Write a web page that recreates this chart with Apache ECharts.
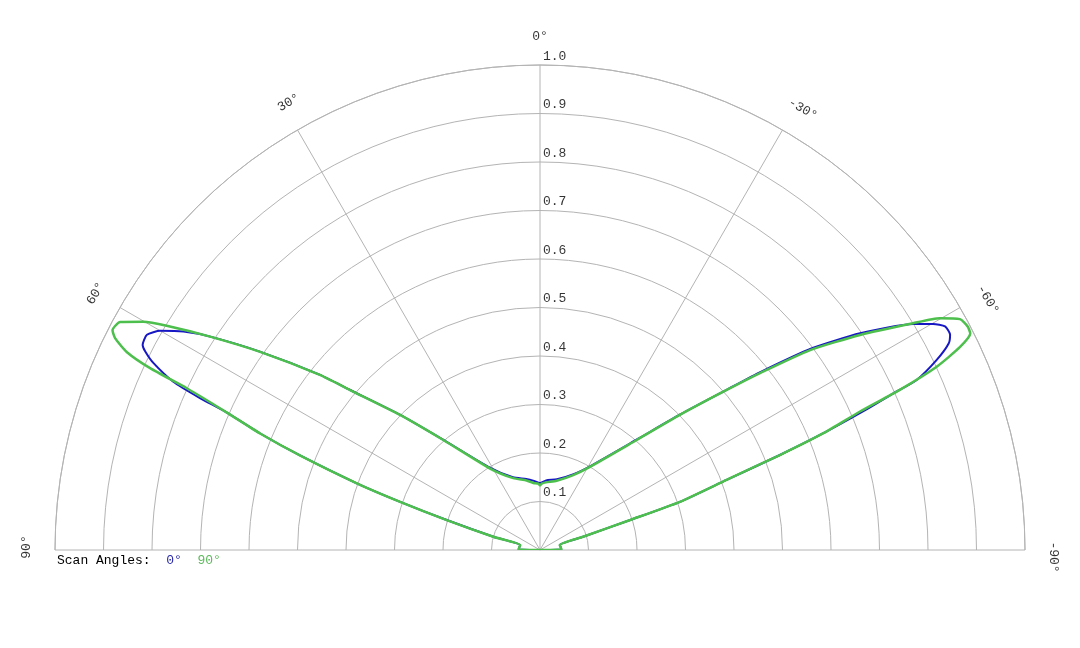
<!DOCTYPE html>
<html>
<head>
<meta charset="utf-8">
<title>Scan Angles</title>
<script src="https://cdn.jsdelivr.net/npm/echarts@6/dist/echarts.min.js"></script>
<style>
  html, body { margin: 0; padding: 0; background: #fff; }
  #container { width: 1080px; height: 648px; }
</style>
</head>
<body>
<div id="container"></div>
<script>
// pattern, angle in degrees (positive = left), radius normalised
var blueAngle = [-90, -88.5, -82, -76, -72.9, -71.6, -71.0, -69.4, -68.4, -67.6, -66.7, -66.1, -65.7, -64.4, -63.2, -62.3,
    -61.1, -60.1, -58.8, -55.9, -53.4, -51.1, -49.4, -46.0, -41.3, -31.0, -23.9, -13.5, -5, 0,
    5, 10.9, 20.4, 31.5, 41.3, 46.0, 49.9, 51.5, 54.7, 57.1, 58.5, 60.0, 61.3, 62.7, 63.3, 64.2,
    65.35, 65.9, 66.3, 67.4, 68.5, 70.0, 71.0, 72.2, 74.1, 76.0, 82, 88.5, 90];
var blueR = [0, 0.044, 0.043, 0.042, 0.093, 0.196, 0.305, 0.411, 0.532, 0.632, 0.735, 0.797, 0.852, 0.907, 0.944, 0.955,
    0.954, 0.935, 0.900, 0.797, 0.697, 0.585, 0.509, 0.403, 0.304, 0.202, 0.171, 0.150, 0.144, 0.138,
    0.143, 0.149, 0.160, 0.200, 0.303, 0.402, 0.513, 0.581, 0.708, 0.810, 0.862, 0.904, 0.924, 0.922, 0.911, 0.885,
    0.832, 0.770, 0.705, 0.625, 0.532, 0.402, 0.305, 0.202, 0.100, 0.042, 0.043, 0.044, 0];

var greenAngle = [-90, -88.5, -82, -76, -72.9, -71.6, -71.0, -69.4, -68.4, -67.6, -66.6, -66.0, -65.2, -64.2, -63.3, -62.4,
    -61.2, -59.9, -58.7, -56.1, -53.5, -51.2, -49.4, -46.0, -41.3, -31.0, -23.9, -13.5, -5, -1.5, 0,
    1.5, 5.7, 10.9, 20.4, 31.5, 41.3, 46.0, 49.9, 51.5, 54.7, 57.1, 59.0, 60.1, 61.5, 62.8, 63.5, 64.4,
    65.0, 65.4, 66.3, 67.4, 68.5, 70.0, 71.0, 72.2, 74.1, 76.0, 82, 88.5, 90];
var greenR = [0, 0.044, 0.043, 0.042, 0.093, 0.196, 0.305, 0.411, 0.532, 0.632, 0.719, 0.812, 0.901, 0.962, 0.993, 0.995,
    0.988, 0.953, 0.900, 0.795, 0.693, 0.582, 0.507, 0.401, 0.302, 0.200, 0.169, 0.147, 0.140, 0.137, 0.133,
    0.137, 0.139, 0.146, 0.158, 0.197, 0.302, 0.401, 0.512, 0.580, 0.707, 0.810, 0.898, 0.944, 0.985, 0.991, 0.979, 0.945,
    0.887, 0.801, 0.705, 0.625, 0.532, 0.402, 0.305, 0.202, 0.100, 0.042, 0.043, 0.044, 0];

var angleTicks = [-90, -60, -30, 0, 30, 60, 90];
var radiusTicks = [0.1, 0.2, 0.3, 0.4, 0.5, 0.6, 0.7, 0.8, 0.9, 1.0];
var scanNames = ['0°', '90°'];

var FONT = "'Courier New', 'Nimbus Mono PS', 'Liberation Mono', monospace";
var GRID = '#b4b4b4';
var BLUE = '#1717c4';
var GREEN = '#4cbf4c';
var TEXT = '#000';

function toPolar(angles, radii) {
    var res = [];
    for (var i = 0; i < angles.length; i++) {
        res.push([radii[i], angles[i]]);
    }
    return res;
}

// small nudge along the reading direction of each rotated label
function labelShift(a) {
    if (a < 0) return 7;
    if (a === 30) return 6;
    if (a === 90) return 3;
    return 0;
}

var angleLabelData = angleTicks.map(function(a) {
    return {
        value: [1.058, a],
        label: { rotate: a, offset: [labelShift(a), 0] }
    };
});

var radiusLabelData = radiusTicks.map(function(r) {
    return [r, 0];
});

var myChart = echarts.init(document.getElementById('container'));
myChart.setOption({
    backgroundColor: '#fff',
    animation: false,
    title: {
        text: 'Scan Angles:  {b|' + scanNames[0] + '}  {g|' + scanNames[1] + '}',
        left: 57,
        top: 554,
        padding: 0,
        textStyle: {
            fontFamily: FONT, fontSize: 13, fontWeight: 'normal', color: TEXT, lineHeight: 14,
            rich: {
                b: { fontFamily: FONT, fontSize: 13, color: '#2b2bb0', lineHeight: 14 },
                g: { fontFamily: FONT, fontSize: 13, color: '#5cba5c', lineHeight: 14 }
            }
        }
    },
    polar: { center: [540, 550], radius: 485 },
    angleAxis: {
        type: 'value',
        min: -90,
        max: 90,
        interval: 30,
        startAngle: 0,
        endAngle: 180,
        clockwise: false,
        axisLine: { show: true, lineStyle: { color: GRID, width: 1 } },
        axisTick: { show: false },
        axisLabel: { show: false },
        splitLine: { show: true, lineStyle: { color: GRID, width: 1 } }
    },
    radiusAxis: {
        type: 'value',
        min: 0,
        max: 1,
        interval: 0.1,
        axisLine: { show: false },
        axisTick: { show: false },
        axisLabel: { show: false },
        splitLine: { show: true, lineStyle: { color: GRID, width: 1 } }
    },
    series: [
        {
            name: scanNames[0],
            type: 'line',
            coordinateSystem: 'polar',
            data: toPolar(blueAngle, blueR),
            showSymbol: false,
            silent: true,
            clip: false,
            smooth: 0.2,
            lineStyle: { color: BLUE, width: 2 }
        },
        {
            name: scanNames[1],
            type: 'line',
            coordinateSystem: 'polar',
            data: toPolar(greenAngle, greenR),
            showSymbol: false,
            silent: true,
            clip: false,
            smooth: 0.2,
            lineStyle: { color: GREEN, width: 2.5 }
        },
        {
            // angle labels round the outside
            type: 'scatter',
            coordinateSystem: 'polar',
            symbolSize: 0,
            clip: false,
            silent: true,
            data: angleLabelData,
            label: {
                show: true,
                position: 'inside',
                align: 'center',
                verticalAlign: 'middle',
                fontFamily: FONT,
                fontSize: 13,
                color: TEXT,
                formatter: function(p) { return p.value[1] + '°'; }
            }
        },
        {
            // radius labels up the 0° spoke
            type: 'scatter',
            coordinateSystem: 'polar',
            symbolSize: 0,
            clip: false,
            silent: true,
            data: radiusLabelData,
            label: {
                show: true,
                position: [3, -8.5],
                align: 'left',
                verticalAlign: 'middle',
                fontFamily: FONT,
                fontSize: 13,
                color: TEXT,
                formatter: function(p) { return p.value[0].toFixed(1); }
            }
        }
    ]
});
</script>
</body>
</html>
